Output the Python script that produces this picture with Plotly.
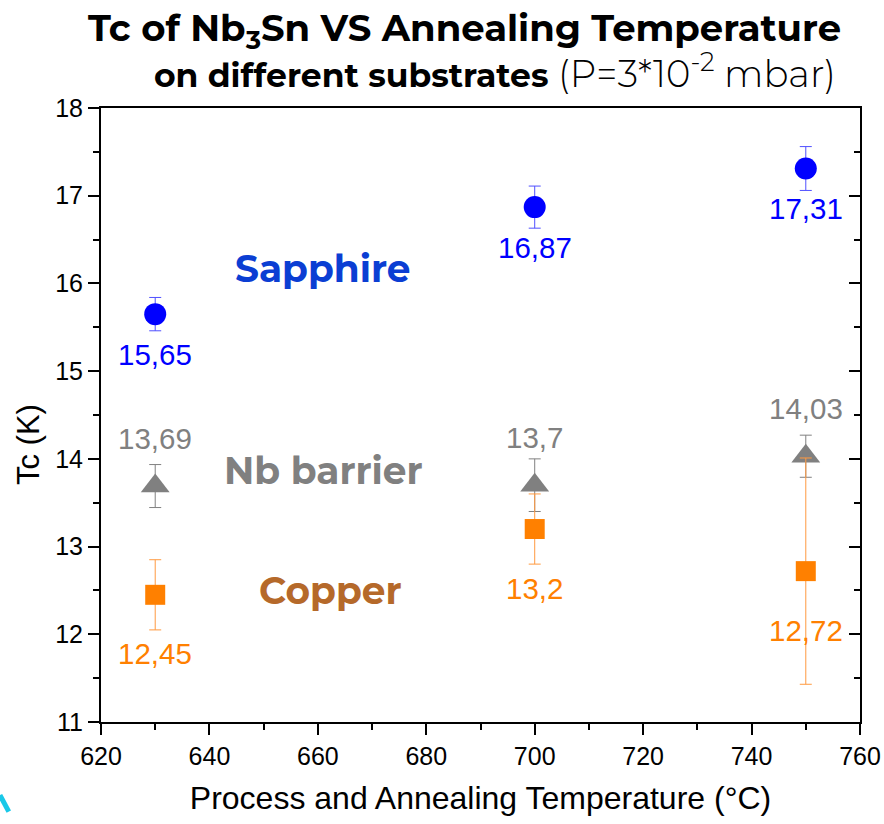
import plotly.graph_objects as go

# ---- data ----
temps = [630, 700, 750]
sapphire_tc = [15.65, 16.87, 17.31]
sapphire_err = [0.19, 0.24, 0.25]
sapphire_lbl = ["15,65", "16,87", "17,31"]

nb_tc = [13.69, 13.70, 14.03]
nb_err = [0.245, 0.30, 0.24]
nb_lbl = ["13,69", "13,7", "14,03"]

cu_tc = [12.45, 13.20, 12.72]
cu_err = [0.40, 0.40, 1.29]
cu_lbl = ["12,45", "13,2", "12,72"]

BLUE = "#0000FF"
GRAY = "#808080"
ORANGE = "#FF8000"

fig = go.Figure()

def add_series(y, err, color, ecolor, symbol, size):
    fig.add_trace(go.Scatter(
        x=temps, y=y, mode="markers",
        marker=dict(symbol=symbol, size=size, color=color, line=dict(width=0)),
        error_y=dict(type="data", array=err, visible=True, color=ecolor,
                     thickness=1, width=6),
        showlegend=False, hoverinfo="x+y"))

add_series(sapphire_tc, sapphire_err, BLUE, "#5050FF", "circle", 22)
add_series(nb_tc, nb_err, GRAY, GRAY, "triangle-up", 25)
add_series(cu_tc, cu_err, ORANGE, "#FF9A40", "square", 20)

# invisible trace for the secondary (mirrored) axes
fig.add_trace(go.Scatter(x=[620], y=[11], xaxis="x2", yaxis="y2",
                         mode="markers", marker=dict(opacity=0),
                         showlegend=False, hoverinfo="skip"))

label_font = "Liberation Sans, Arial, sans-serif"
anns = []
for x, y, t in zip(temps, sapphire_tc, sapphire_lbl):
    anns.append(dict(x=x, y=y, text=t, showarrow=False, yshift=-40,
                     font=dict(family=label_font, size=29.5, color=BLUE)))
for x, y, t in zip(temps, nb_tc, nb_lbl):
    anns.append(dict(x=x, y=y, text=t, showarrow=False, yshift=48,
                     font=dict(family=label_font, size=29.5, color=GRAY)))
for x, y, t in zip(temps, cu_tc, cu_lbl):
    anns.append(dict(x=x, y=y, text=t, showarrow=False, yshift=-59,
                     font=dict(family=label_font, size=29.5, color=ORANGE)))

title_font = "Montserrat, Inter, Open Sans, sans-serif"
anns += [
    dict(x=661, y=16.17, text="<b>Sapphire</b>", showarrow=False,
         font=dict(family=title_font, size=37.5, color="#0B3ED3")),
    dict(x=661.1, y=13.87, text="<b>Nb barrier</b>", showarrow=False,
         font=dict(family=title_font, size=37.5, color="#808080")),
    dict(x=662.4, y=12.50, text="<b>Copper</b>", showarrow=False,
         font=dict(family=title_font, size=37.5, color="#B5692A")),
]

# title as two annotations (one per line)
anns += [
    dict(xref="paper", yref="paper", x=0.479, y=1, yanchor="middle",
         yshift=78, showarrow=False,
         text="<b>Tc of Nb<sub>3</sub>Sn VS Annealing Temperature</b>",
         font=dict(family=title_font, size=37, color="black")),
    dict(xref="paper", yref="paper", x=0.519, y=1, yanchor="middle",
         yshift=37, showarrow=False,
         text="<b>on different substrates</b>"
              "<span style=\"font-weight:300;font-size:37px\">"
              " (P=3*10<sup>-2</sup> mbar)</span>",
         font=dict(family=title_font, size=33, color="black")),
    # y axis title
    dict(xref="paper", yref="paper", x=0, y=0.5, xanchor="center",
         yanchor="middle", xshift=-73, yshift=-30,
         showarrow=False, textangle=-90, text="Tc (K)",
         font=dict(family=label_font, size=31, color="black")),
]

axis_font = dict(family=label_font, size=25, color="black")

fig.update_layout(
    width=884, height=824,
    margin=dict(l=101, r=24, t=108, b=102),
    plot_bgcolor="white", paper_bgcolor="white",
    xaxis=dict(
        range=[620, 760], dtick=20, tick0=620, automargin=False,
        showline=True, linecolor="black", linewidth=2, mirror=True,
        ticks="outside", ticklen=11, tickwidth=2, tickcolor="black",
        minor=dict(ticks="outside", ticklen=6, tickwidth=2, dtick=10,
                   tickcolor="black"),
        showgrid=False, zeroline=False, tickfont=axis_font,
        title=dict(text="Process and Annealing Temperature (°C)",
                   font=dict(family=label_font, size=32, color="black"),
                   standoff=18)),
    yaxis=dict(
        range=[11, 18], dtick=1, tick0=11, automargin=False,
        showline=True, linecolor="black", linewidth=2, mirror=True,
        ticks="outside", ticklen=11, tickwidth=2, tickcolor="black",
        minor=dict(ticks="outside", ticklen=6, tickwidth=2, dtick=0.5,
                   tickcolor="black"),
        showgrid=False, zeroline=False, tickfont=axis_font),
    xaxis2=dict(range=[620, 760], overlaying="x", side="top",
                automargin=False,
                showticklabels=False, ticks="", showgrid=False,
                zeroline=False, showline=False),
    yaxis2=dict(range=[11, 18], overlaying="y", side="right",
                anchor="x2", dtick=1, tick0=11, automargin=False,
                showticklabels=False, ticks="inside", ticklen=11,
                tickwidth=2, tickcolor="black",
                minor=dict(ticks="inside", ticklen=6, tickwidth=2,
                           dtick=0.5, tickcolor="black"),
                showgrid=False, zeroline=False, showline=False),
    annotations=anns,
    shapes=[dict(type="line", xref="paper", yref="paper",
                 x0=-0.1331, y0=-0.119, x1=-0.1215, y1=-0.146,
                 line=dict(color="#19C8E8", width=5), layer="above")],
)

fig.write_html("out.html")
